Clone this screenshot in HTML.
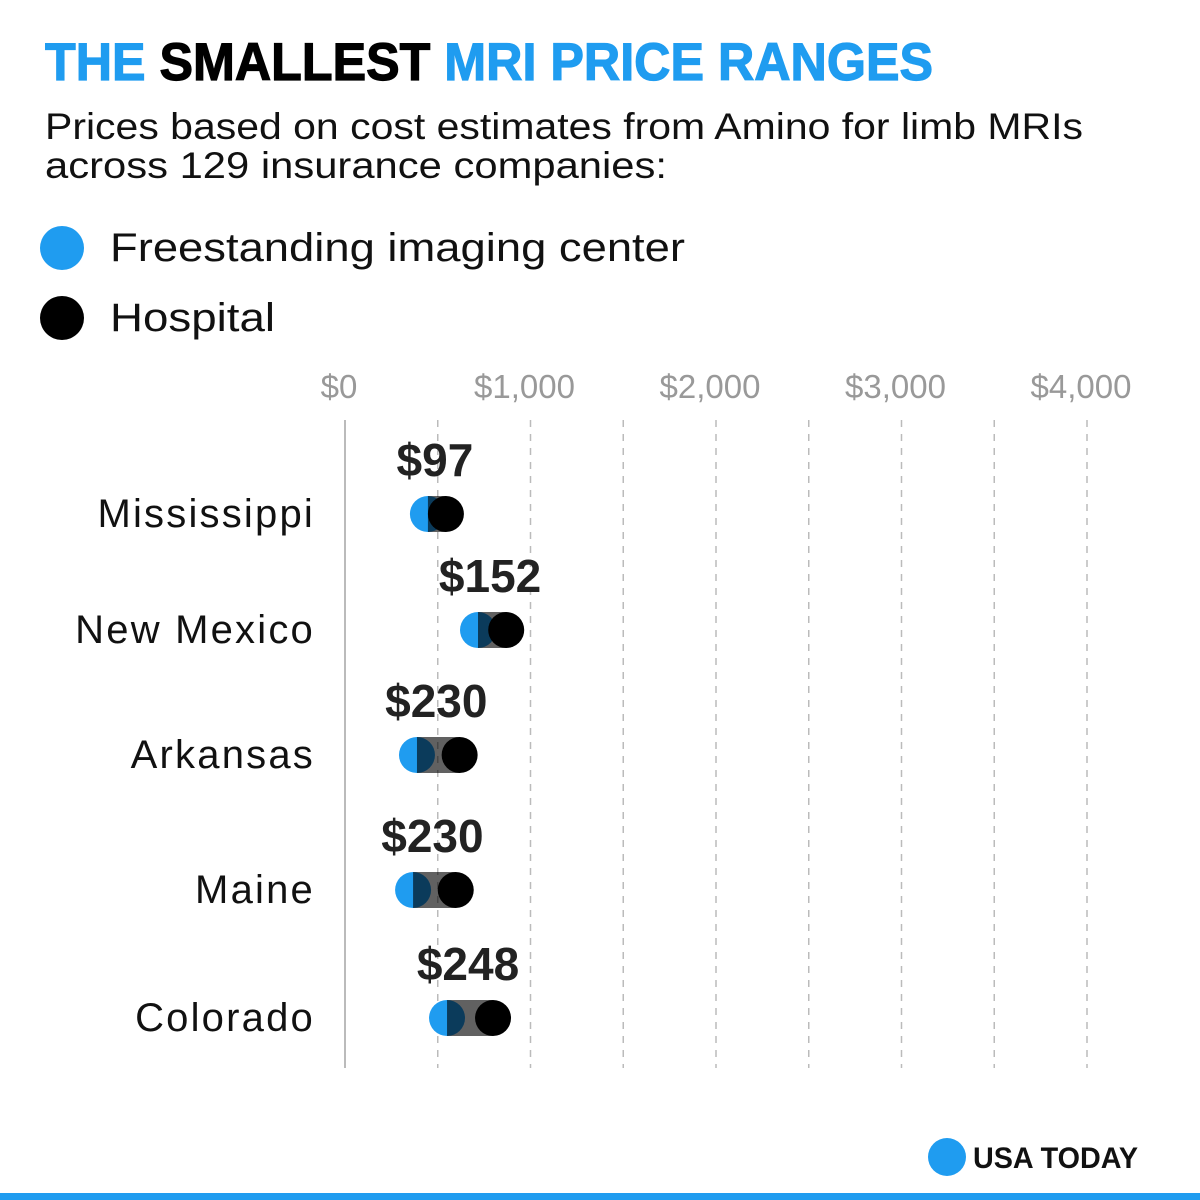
<!DOCTYPE html>
<html><head><meta charset="utf-8"><style>
html,body{margin:0;padding:0;background:#fff;}
svg{display:block;font-family:"Liberation Sans",sans-serif;}
</style></head><body>
<svg id="chart" width="1200" height="1200" viewBox="0 0 1200 1200" xmlns="http://www.w3.org/2000/svg">
<rect width="1200" height="1200" fill="#fff"/>
<text x="45" y="80" font-size="53" font-weight="bold" stroke-width="1.2" textLength="888" lengthAdjust="spacingAndGlyphs"><tspan fill="#1f9cf0" stroke="#1f9cf0">THE </tspan><tspan fill="#000" stroke="#000">SMALLEST </tspan><tspan fill="#1f9cf0" stroke="#1f9cf0">MRI PRICE RANGES</tspan></text>
<text x="45" y="139" font-size="37" fill="#111" textLength="1038" lengthAdjust="spacingAndGlyphs">Prices based on cost estimates from Amino for limb MRIs</text>
<text x="45" y="178" font-size="37" fill="#111" textLength="622" lengthAdjust="spacingAndGlyphs">across 129 insurance companies:</text>
<g>
<circle cx="62" cy="248" r="22" fill="#1f9cf0"/>
<text x="110" y="261" font-size="40" fill="#111" textLength="575" lengthAdjust="spacingAndGlyphs">Freestanding imaging center</text>
<circle cx="62" cy="318" r="22" fill="#000"/>
<text x="110" y="331" font-size="40" fill="#111" textLength="165" lengthAdjust="spacingAndGlyphs">Hospital</text>
</g>
<g id="grid"></g>
<g id="axis"></g>
<g id="rows"></g>
<g>
<circle cx="947" cy="1157" r="19" fill="#1f9cf0"/>
<text x="973" y="1168" font-size="30" font-weight="bold" fill="#111" textLength="165" lengthAdjust="spacingAndGlyphs">USA TODAY</text>
</g>
<rect x="0" y="1193" width="1200" height="7" fill="#1f9cf0"/>
</svg>
<script>
const states = ["Mississippi","New Mexico","Arkansas","Maine","Colorado"];
const freestanding = [447,717,388,367,550];
const hospital = [544,869,618,597,798];
const rangeLabels = ["$97","$152","$230","$230","$248"];
const tickValues = [0,1000,2000,3000,4000];
const tickLabels = ["$0","$1,000","$2,000","$3,000","$4,000"];
const gridValues = [500,1000,1500,2000,2500,3000,3500,4000];
const rowYs = [514,630,755,890,1018];

const NS="http://www.w3.org/2000/svg";
const x = v => 345 + v*0.1855;
function mk(tag, attrs, parent){const e=document.createElementNS(NS,tag);for(const k in attrs)e.setAttribute(k,attrs[k]);parent.appendChild(e);return e;}
const grid=document.getElementById('grid'), axis=document.getElementById('axis'), rows=document.getElementById('rows');

let base=mk('line',{x1:x(0),x2:x(0),y1:420,y2:1068,stroke:'#bbb','stroke-width':2},grid);


gridValues.forEach(v=>{
  const l=mk('line',{x1:x(v),x2:x(v),y1:420,y2:1068,stroke:'#bbb','stroke-width':1.5,'stroke-dasharray':'7,7'},grid);
  
  
});
tickValues.forEach((v,i)=>{
  const t=mk('text',{x:x(v)-6,y:398,'font-size':33,fill:'#999','text-anchor':'middle'},axis);
  t.textContent=tickLabels[i];
  
  
});
states.forEach((s,i)=>{
  const y=rowYs[i], a=x(freestanding[i]), b=x(hospital[i]);
  const g=mk('g',{},rows);
  
  
  const lab=mk('text',{x:315,y:y+13,'font-size':40,fill:'#111','text-anchor':'end','letter-spacing':'2.2'},g);
  lab.textContent=s;
  
  
  const c1=mk('circle',{cx:a,cy:y,r:18,fill:'#1f9cf0'},g);
  
  
  const r=mk('rect',{x:a,y:y-18,width:b-a,height:36,fill:'#000','fill-opacity':0.62},g);
  
  
  const c2=mk('circle',{cx:b,cy:y,r:18,fill:'#000'},g);
  
  
  const v=mk('text',{x:(a+b)/2-2,y:y-38,'font-size':46,'font-weight':'bold',fill:'#222','text-anchor':'middle'},g);
  v.textContent=rangeLabels[i];
  
  
});
</script>
</body></html>
